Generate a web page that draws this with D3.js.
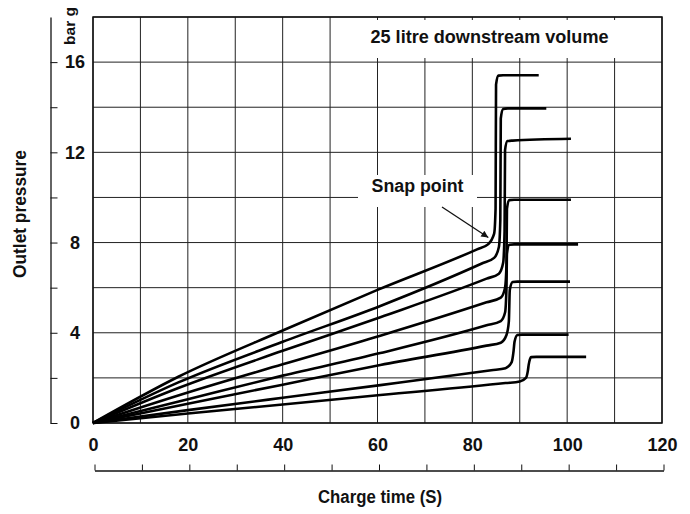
<!DOCTYPE html>
<html>
<head>
<meta charset="utf-8">
<script src="https://cdn.jsdelivr.net/npm/d3@7"></script>
<style>
  body { margin: 0; background: #fff; }
  svg text { font-family: "Liberation Sans", Arial, sans-serif; font-weight: bold; fill: #111; }
</style>
</head>
<body>
<div id="chart"></div>
<script>
// charge time (s) / outlet pressure (bar g), one array per set pressure
var curve15 = [[0,0],[18,2.05],[40,4.1],[60,5.9],[81,7.7],[83.3,7.92],[84.6,8.4],[84.9,9.5],[85.0,15.0],[85.5,15.4],[86.5,15.42],[94,15.42]];
var curve14 = [[0,0],[18,1.8],[40,3.6],[60.6,5.19],[82,7.07],[84.6,7.32],[85.6,7.8],[85.9,9],[86.0,13.5],[86.5,13.92],[87.5,13.95],[95.6,13.95]];
var curve12 = [[0,0],[18,1.55],[40,3.2],[60.6,4.69],[83,6.4],[85.6,6.62],[86.5,7.1],[86.8,8.5],[86.9,12.1],[87.4,12.5],[88.5,12.52],[100.8,12.6]];
var curve10 = [[0,0],[20,1.35],[40,2.6],[60.6,3.87],[83,5.35],[86,5.56],[86.9,6.0],[87.2,7],[87.3,9.5],[87.8,9.88],[88.8,9.9],[100.8,9.9]];
var curve8  = [[0,0],[20,1.05],[40,2.1],[60.6,3.1],[83,4.33],[86,4.52],[86.9,4.9],[87.2,6],[87.3,7.5],[87.8,7.9],[88.8,7.92],[102.3,7.92]];
var curve6  = [[0,0],[20,0.85],[40,1.7],[60.6,2.57],[83,3.43],[86,3.56],[87.2,3.9],[87.7,4.5],[87.9,5.9],[88.5,6.25],[89.5,6.27],[100.6,6.27]];
var curve4  = [[0,0],[20,0.57],[40,1.12],[60.6,1.68],[84,2.34],[87,2.43],[88.3,2.7],[88.7,3.2],[88.9,3.6],[89.5,3.9],[90.5,3.92],[100.3,3.92]];
var curve3  = [[0,0],[20,0.42],[40,0.82],[60.6,1.24],[87,1.77],[90,1.84],[91.3,2.0],[91.7,2.3],[91.9,2.6],[92.4,2.92],[93.5,2.93],[104,2.93]];

var curves = [curve15, curve14, curve12, curve10, curve8, curve6, curve4, curve3];

var xTicks = [0,10,20,30,40,50,60,70,80,90,100,110,120];
var yTicks = [0,2,4,6,8,10,12,14,16];
var titleText = "25 litre downstream volume";
var snapText = "Snap point";
var snapAt = [84, 8.0];

var width = 690, height = 514;

var svg = d3.select("#chart").append("svg")
	.attr("width", width)
	.attr("height", height);

var x = d3.scaleLinear().domain([0,120]).range([93,662]);
var y = d3.scaleLinear().domain([0,18]).range([423,17]);

// grid
svg.append("g").selectAll("line.v")
	.data(xTicks)
	.enter().append("line")
	.attr("x1", function(d){ return x(d); })
	.attr("x2", function(d){ return x(d); })
	.attr("y1", y(0)).attr("y2", y(18))
	.style("stroke", "#222").style("stroke-width", 1);

svg.append("g").selectAll("line.h")
	.data(yTicks.concat([18]))
	.enter().append("line")
	.attr("x1", x(0)).attr("x2", x(120))
	.attr("y1", function(d){ return y(d); })
	.attr("y2", function(d){ return y(d); })
	.style("stroke", "#222").style("stroke-width", 1);

// plot frame
svg.append("rect")
	.attr("x", x(0)).attr("y", y(18))
	.attr("width", x(120)-x(0)).attr("height", y(0)-y(18))
	.style("fill", "none").style("stroke", "#111").style("stroke-width", 1.5);

// white boxes behind the labels
svg.append("rect")
	.attr("x", 340).attr("y", 20).attr("width", 320).attr("height", 38)
	.style("fill", "#fff");
svg.append("rect")
	.attr("x", 358).attr("y", 175).attr("width", 119).attr("height", 32)
	.style("fill", "#fff");

svg.append("text")
	.attr("x", 489.5).attr("y", 43)
	.attr("text-anchor", "middle")
	.attr("textLength", 238)
	.attr("lengthAdjust", "spacingAndGlyphs")
	.style("font-size", "18px")
	.text(titleText);

svg.append("text")
	.attr("x", 417.5).attr("y", 192)
	.attr("text-anchor", "middle")
	.attr("textLength", 92)
	.attr("lengthAdjust", "spacingAndGlyphs")
	.style("font-size", "18px")
	.text(snapText);

// arrow to snap point
svg.append("defs").append("marker")
	.attr("id", "arrow")
	.attr("viewBox", "0 0 10 10")
	.attr("refX", 10).attr("refY", 5)
	.attr("markerWidth", 11).attr("markerHeight", 7)
	.attr("markerUnits", "userSpaceOnUse")
	.attr("orient", "auto")
	.append("path")
	.attr("d", "M0,0L10,5L0,10z")
	.style("fill", "#111");

svg.append("line")
	.attr("x1", 442).attr("y1", 207)
	.attr("x2", x(snapAt[0]) - 3).attr("y2", y(snapAt[1]) - 5)
	.attr("marker-end", "url(#arrow)")
	.style("stroke", "#111").style("stroke-width", 1.3);

// curves
var line = d3.line()
	.x(function(d){ return x(d[0]); })
	.y(function(d){ return y(d[1]); })
	.curve(d3.curveMonotoneX);

svg.append("g").selectAll("path.curve")
	.data(curves)
	.enter().append("path")
	.attr("class", "curve")
	.attr("d", line)
	.style("fill", "none")
	.style("stroke", "#000")
	.style("stroke-width", 2.6)
	.style("stroke-linejoin", "round");

// y axis, set off to the left
var yAxis = d3.axisRight(y)
	.tickValues(yTicks)
	.tickSize(7)
	.tickSizeOuter(0)
	.tickFormat(function(d){ return d % 4 === 0 ? d : ""; });

var yg = svg.append("g")
	.attr("transform", "translate(50.5,0)")
	.call(yAxis);
yg.select(".domain").style("stroke", "#111").style("stroke-width", 1.3);
yg.selectAll(".tick line").style("stroke", "#111");
yg.selectAll(".tick text")
	.attr("x", 24.5)
	.attr("text-anchor", "middle")
	.style("font-size", "18px")
	.style("font-family", null);

// x axis, set off below
var xAxis = d3.axisTop(x)
	.tickValues(xTicks)
	.tickSize(6)
	.tickSizeOuter(0)
	.tickPadding(14)
	.tickFormat(function(d){ return d % 20 === 0 ? d : ""; });

var xg = svg.append("g")
	.attr("transform", "translate(1.5,470.5)")
	.call(xAxis);
xg.select(".domain").style("stroke", "#111").style("stroke-width", 1.3);
xg.selectAll(".tick line").style("stroke", "#111");
xg.selectAll(".tick text")
	.attr("dx", -1.5)
	.style("font-size", "18px")
	.style("font-family", null);

// axis titles
svg.append("text")
	.attr("transform", "translate(75,26) rotate(-90)")
	.attr("text-anchor", "middle")
	.attr("textLength", 38)
	.attr("lengthAdjust", "spacingAndGlyphs")
	.style("font-size", "15px")
	.text("bar g");

svg.append("text")
	.attr("transform", "translate(25.5,214) rotate(-90)")
	.attr("text-anchor", "middle")
	.attr("textLength", 128)
	.attr("lengthAdjust", "spacingAndGlyphs")
	.style("font-size", "18px")
	.text("Outlet pressure");

svg.append("text")
	.attr("x", 380).attr("y", 503)
	.attr("text-anchor", "middle")
	.attr("textLength", 124)
	.attr("lengthAdjust", "spacingAndGlyphs")
	.style("font-size", "18px")
	.text("Charge time (S)");
</script>
</body>
</html>
